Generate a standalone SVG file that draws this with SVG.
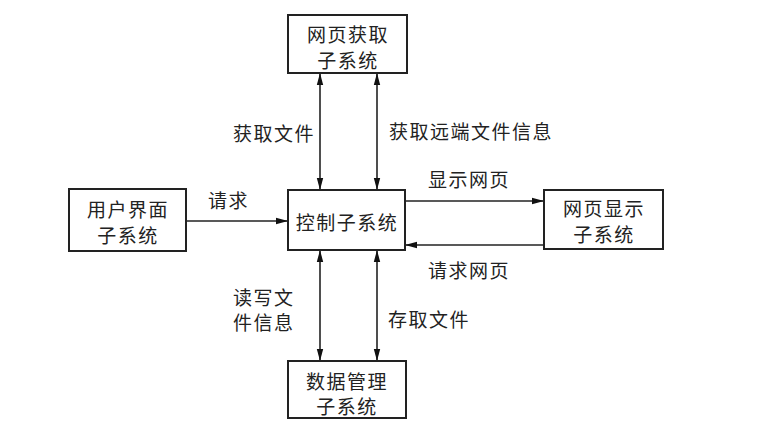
<svg xmlns="http://www.w3.org/2000/svg" width="773" height="430" viewBox="0 0 773 430">
<style>
.box{fill:#fff;stroke:#222;stroke-width:2}
.t{font-family:"Noto Sans CJK SC","Noto Sans",sans-serif;font-size:19px;fill:#222;text-anchor:middle;dominant-baseline:central;letter-spacing:1.5px}
.l{font-family:"Noto Sans CJK SC","Noto Sans",sans-serif;font-size:19px;fill:#222;dominant-baseline:central;letter-spacing:1.5px}
.c{stroke:#222;stroke-width:1.6;fill:none}
</style>
<defs>
<marker id="ah" markerWidth="12" markerHeight="8" refX="11" refY="4" orient="auto-start-reverse" markerUnits="userSpaceOnUse">
<path d="M0,0.8 L12,4 L0,7.2 Z" fill="#111"/>
</marker>
</defs>
<rect width="773" height="430" fill="#fff"/>
<g id="connectors">
<line class="c" x1="320" y1="74" x2="320" y2="189" marker-start="url(#ah)" marker-end="url(#ah)"/>
<line class="c" x1="377" y1="74" x2="377" y2="189" marker-start="url(#ah)" marker-end="url(#ah)"/>
<line class="c" x1="320" y1="251" x2="320" y2="360" marker-start="url(#ah)" marker-end="url(#ah)"/>
<line class="c" x1="377" y1="251" x2="377" y2="360" marker-start="url(#ah)" marker-end="url(#ah)"/>
<line class="c" x1="187" y1="221" x2="287" y2="221" marker-end="url(#ah)"/>
<line class="c" x1="406" y1="201" x2="543" y2="201" marker-end="url(#ah)"/>
<line class="c" x1="543" y1="245" x2="406" y2="245" marker-end="url(#ah)"/>
<text class="l" x="233" y="132">获取文件</text>
<text class="l" x="389" y="130">获取远端文件信息</text>
<text class="l" x="208" y="199">请求</text>
<text class="l" x="428" y="178">显示网页</text>
<text class="l" x="428" y="269">请求网页</text>
<text class="l" x="233" y="296">读写文</text>
<text class="l" x="233" y="321">件信息</text>
<text class="l" x="388" y="318">存取文件</text>
</g>
<g id="web-fetch">
<rect class="box" x="288" y="15" width="119" height="58"/>
<text class="t" x="348" y="33">网页获取</text>
<text class="t" x="348" y="59">子系统</text>
</g>
<g id="control">
<rect class="box" x="288" y="190" width="117" height="60"/>
<text class="t" x="347" y="221">控制子系统</text>
</g>
<g id="ui">
<rect class="box" x="69" y="189" width="117" height="62"/>
<text class="t" x="128" y="208">用户界面</text>
<text class="t" x="128" y="234">子系统</text>
</g>
<g id="web-display">
<rect class="box" x="544" y="190" width="119" height="59"/>
<text class="t" x="604" y="207">网页显示</text>
<text class="t" x="604" y="233">子系统</text>
</g>
<g id="data">
<rect class="box" x="288" y="361" width="118" height="57"/>
<text class="t" x="347" y="380">数据管理</text>
<text class="t" x="347" y="405">子系统</text>
</g>
</svg>
